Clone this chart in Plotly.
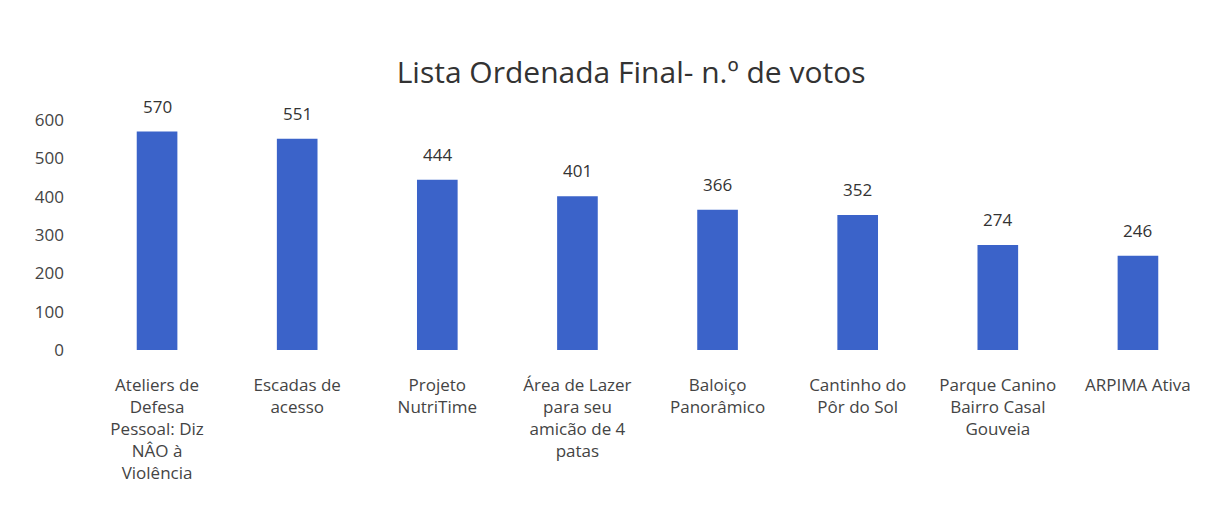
import plotly.graph_objects as go

categories = [
    "Ateliers de<br>Defesa<br>Pessoal: Diz<br>NÂO à<br>Violência",
    "Escadas de<br>acesso",
    "Projeto<br>NutriTime",
    "Área de Lazer<br>para seu<br>amicão de 4<br>patas",
    "Baloiço<br>Panorâmico",
    "Cantinho do<br>Pôr do Sol",
    "Parque Canino<br>Bairro Casal<br>Gouveia",
    "ARPIMA Ativa",
]
votes = [570, 551, 444, 401, 366, 352, 274, 246]
y_ticks = [0, 100, 200, 300, 400, 500, 600]

fig = go.Figure(
    go.Bar(
        x=categories,
        y=votes,
        cliponaxis=False,
        marker=dict(color="#3b63c9", line=dict(width=0)),
        width=0.29,
    )
)

for c, v in zip(categories, votes):
    fig.add_annotation(
        x=c, y=v, text=str(v), showarrow=False,
        yanchor="bottom", yshift=12,
        font=dict(size=17, color="#333333"),
    )

fig.update_layout(
    width=1229,
    height=521,
    paper_bgcolor="white",
    plot_bgcolor="white",
    font=dict(family="Open Sans, Noto Sans, sans-serif", color="#444444"),
    title=dict(
        text="Lista Ordenada Final- n.º de votos",
        x=0.507,
        xanchor="center",
        y=0.877,
        yanchor="middle",
        font=dict(size=30, color="#333333"),
    ),
    margin=dict(l=79, r=29, t=112, b=179),
    showlegend=False,
)
fig.update_xaxes(
    automargin=False,
    showline=False,
    ticks="",
    tickfont=dict(size=17, color="#444444"),
    tickangle=0,
    ticklabelstandoff=23,
)
fig.update_yaxes(
    automargin=False,
    range=[0, 600],
    tickvals=y_ticks,
    showgrid=False,
    zeroline=False,
    showline=False,
    tickfont=dict(size=17, color="#444444"),
    ticklen=0,
    ticklabelstandoff=22,
)

fig.write_html("out.html")
